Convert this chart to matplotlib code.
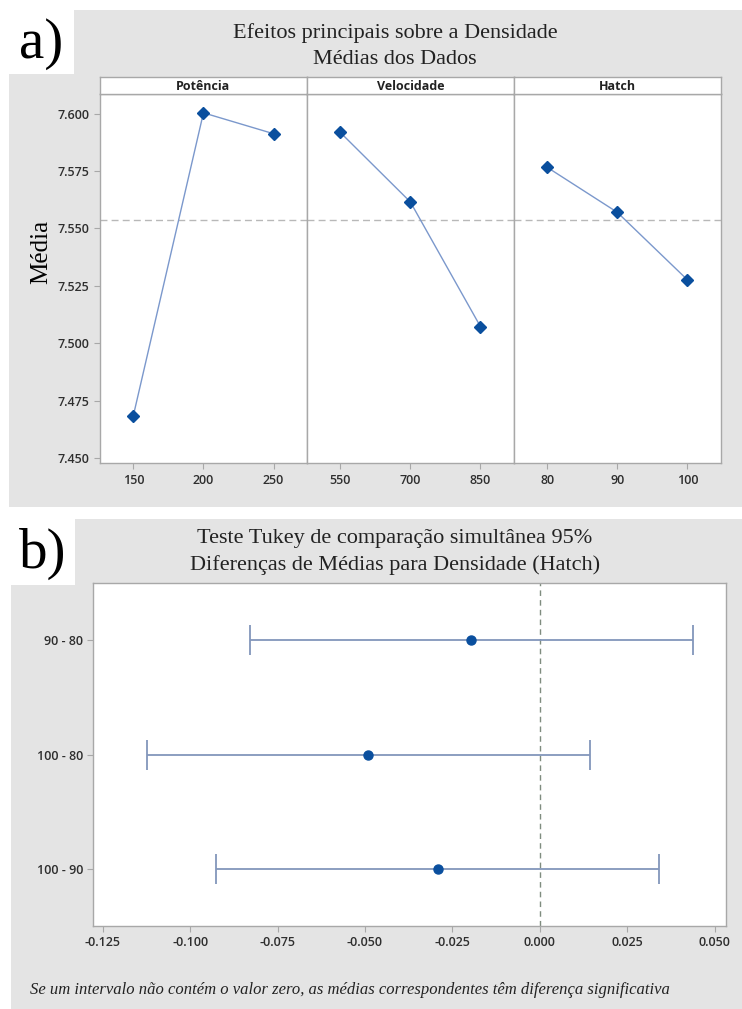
import matplotlib
matplotlib.use("Agg")
import matplotlib.pyplot as plt
from matplotlib.patches import Rectangle

# dados
pot_levels = [150, 200, 250]
pot_means = [7.4684, 7.6003, 7.5912]
vel_levels = [550, 700, 850]
vel_means = [7.5918, 7.5615, 7.5072]
hatch_levels = [80, 90, 100]
hatch_means = [7.5766, 7.5570, 7.5276]
overall_mean = 7.5537
factor_names = ["Potência", "Velocidade", "Hatch"]
y_ticks = [7.450, 7.475, 7.500, 7.525, 7.550, 7.575, 7.600]

comparisons = ["90 - 80", "100 - 80", "100 - 90"]
diff_center = [-0.0196, -0.0490, -0.0292]
diff_lower = [-0.0828, -0.1122, -0.0926]
diff_upper = [0.0439, 0.0145, 0.0341]
x_ticks_b = [-0.125, -0.100, -0.075, -0.050, -0.025, 0.000, 0.025, 0.050]

W, H = 742, 1009
GRAY_BG = "#e4e4e4"
SPINE = "#a8a8a8"
TICK_TXT = "#2e2e2e"
SERIF = "Liberation Serif"
SANS = "Open Sans"


def px(x0, y0, x1, y1):
    # retangulo em pixels -> coordenadas da figura
    return [x0 / W, 1 - y1 / H, (x1 - x0) / W, (y1 - y0) / H]


fig = plt.figure(figsize=(W / 100, H / 100), dpi=100)
fig.patch.set_facecolor("white")

# fundos cinzentos
for (x0, y0, x1, y1) in [(9, 10, 742, 507), (11, 519, 742, 1009)]:
    r = px(x0, y0, x1, y1)
    fig.patches.append(Rectangle((r[0], r[1]), r[2], r[3], transform=fig.transFigure,
                                 facecolor=GRAY_BG, edgecolor="none", zorder=-2))
# caixas brancas das letras
for (x0, y0, x1, y1), lab in [((9, 10, 74, 74), "a)"), ((11, 519, 75, 585), "b)")]:
    r = px(x0, y0, x1, y1)
    fig.patches.append(Rectangle((r[0], r[1]), r[2], r[3], transform=fig.transFigure,
                                 facecolor="white", edgecolor="none", zorder=-1))
    fig.text((x0 + x1) / 2 / W, 1 - ((y0 + y1) / 2 + 2) / H, lab, family=SERIF,
             fontsize=41, ha="center", va="center", color="black")

# titulos
fig.text(395 / W, 1 - 33 / H, "Efeitos principais sobre a Densidade", family=SERIF,
         fontsize=16, ha="center", va="center", color="#222222")
fig.text(395 / W, 1 - 60 / H, "Médias dos Dados", family=SERIF,
         fontsize=16, ha="center", va="center", color="#222222")
fig.text(395 / W, 1 - 539 / H, "Teste Tukey de comparação simultânea 95%", family=SERIF,
         fontsize=16, ha="center", va="center", color="#222222")
fig.text(395 / W, 1 - 565 / H, "Diferenças de Médias para Densidade (Hatch)", family=SERIF,
         fontsize=16, ha="center", va="center", color="#222222")

# ---- a) efeitos principais ----
left, right = 100, 720.7
pw = (right - left) / 3
series = [(pot_levels, pot_means), (vel_levels, vel_means), (hatch_levels, hatch_means)]
for i, (lv, mv) in enumerate(series):
    x0 = left + i * pw
    ax = fig.add_axes(px(x0, 94, x0 + pw, 463.3))
    sax = fig.add_axes(px(x0, 77.3, x0 + pw, 94))
    step = lv[1] - lv[0]
    ax.axhline(overall_mean, color="#b8b8b8", lw=1.0, ls=(0, (5, 3)), zorder=1)
    ax.plot(lv, mv, color="#7b98cc", lw=1.0, zorder=2)
    ax.plot(lv, mv, ls="none", marker="D", ms=6, color="#0a4f9e", zorder=3)
    ax.set_xlim(lv[0] - 0.475 * step, lv[-1] + 0.475 * step)
    ax.set_ylim(7.4477, 7.6085)
    ax.set_xticks(lv)
    ax.set_xticklabels([str(v) for v in lv])
    ax.set_yticks(y_ticks)
    ax.set_yticklabels([f"{v:.3f}" for v in y_ticks])
    for s in ax.spines.values():
        s.set_color(SPINE)
        s.set_linewidth(1.0)
    ax.tick_params(axis="both", colors=SPINE, labelcolor=TICK_TXT, length=4, width=0.8,
                   labelsize=9)
    for t in ax.get_xticklabels() + ax.get_yticklabels():
        t.set_family(SANS)
        t.set_fontweight("semibold")
    if i > 0:
        ax.tick_params(axis="y", left=False, labelleft=False)
    ax.set_facecolor("white")

    sax.set_xticks([])
    sax.set_yticks([])
    sax.set_facecolor("white")
    for s in sax.spines.values():
        s.set_color(SPINE)
        s.set_linewidth(1.0)
    sax.text(0.5, 0.45, factor_names[i], transform=sax.transAxes, ha="center", va="center",
             family=SANS, fontweight="bold", fontsize=9, color="#222222")

fig.text(41 / W, 1 - 252 / H, "Média", family=SERIF, fontsize=18, rotation=90,
         ha="center", va="center", color="black")

# ---- b) Tukey ----
axb = fig.add_axes(px(93.3, 583.3, 725.7, 926))
ypos = list(range(len(comparisons)))
xerr = [[c - lo for c, lo in zip(diff_center, diff_lower)],
        [up - c for c, up in zip(diff_center, diff_upper)]]
axb.axvline(0, color="#7f8c7f", lw=1.0, ls=(0, (4, 3)), zorder=1)
eb = axb.errorbar(diff_center, ypos, xerr=xerr, fmt="none", ecolor="#8296bb",
                  elinewidth=1.3, capsize=11, capthick=1.3, zorder=2)
for cap in eb[1]:
    cap.set_color("#4f6f9f")
axb.plot(diff_center, ypos, ls="none", marker="o", ms=6.5, color="#0a4f9e", zorder=3)
axb.set_ylim(2.5, -0.5)
axb.set_xlim(-0.1277, 0.0532)
axb.set_yticks(ypos)
axb.set_yticklabels(comparisons)
axb.set_xticks(x_ticks_b)
axb.set_xticklabels([f"{v:.3f}" for v in x_ticks_b])
for s in axb.spines.values():
    s.set_color(SPINE)
    s.set_linewidth(1.0)
axb.tick_params(axis="both", colors=SPINE, labelcolor=TICK_TXT, length=4, width=0.8,
                labelsize=9)
for t in axb.get_xticklabels() + axb.get_yticklabels():
    t.set_family(SANS)
    t.set_fontweight("semibold")

fig.text(30 / W, 1 - 990 / H,
         "Se um intervalo não contém o valor zero, as médias correspondentes têm diferença significativa",
         family=SERIF, style="italic", fontsize=12, ha="left", va="center", color="#222222")

fig.savefig("out.png", dpi=100)
